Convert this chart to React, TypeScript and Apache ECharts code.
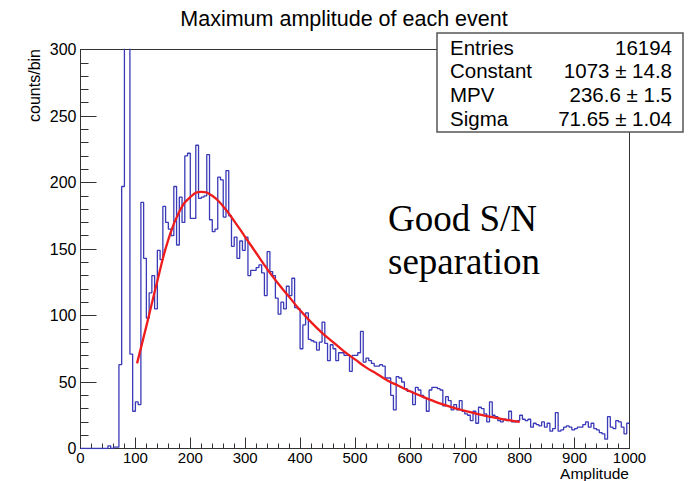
import React, { useEffect, useRef } from "react";
import * as echarts from "echarts";

// Histogram: 200 bins of width 5 from 0 to 1000 (counts per bin)
const BIN_WIDTH = 5;
const X_MIN = 0;
const X_MAX = 1000;
const Y_MAX = 300;
const histCounts = [
  0, 0, 0, 0, 0, 0, 0, 0, 0, 0,
  2, 0, 1, 1, 63, 197, 380, 350, 71, 28,
  35, 33, 185, 143, 98, 117, 130, 105, 149, 142,
  182, 170, 165, 160, 197, 153, 189, 170, 220, 222,
  173, 173, 228, 188, 189, 190, 221, 172, 163, 165,
  204, 202, 174, 209, 175, 152, 159, 143, 156, 149,
  159, 130, 134, 134, 136, 138, 132, 115, 148, 133,
  130, 113, 101, 110, 105, 122, 115, 128, 106, 105,
  75, 93, 102, 82, 81, 80, 74, 80, 95, 79,
  66, 78, 75, 66, 72, 72, 70, 70, 58, 70,
  70, 72, 88, 65, 68, 66, 64, 62, 62, 63,
  62, 53, 53, 40, 29, 54, 53, 50, 45, 43,
  43, 33, 46, 44, 40, 38, 28, 44, 46, 46,
  45, 44, 32, 39, 36, 29, 33, 29, 36, 28,
  26, 25, 21, 28, 19, 31, 30, 26, 20, 35,
  25, 24, 21, 20, 22, 21, 28, 20, 20, 21,
  25, 22, 21, 22, 16, 19, 18, 17, 20, 16,
  19, 13, 15, 27, 13, 14, 16, 17, 16, 14,
  15, 16, 16, 18, 20, 16, 19, 15, 14, 12,
  11, 7, 24, 16, 15, 21, 20, 16, 11, 19,
];

// Landau fit curve
const fitX = [103, 120, 140, 160, 180, 200, 220, 240, 260, 280, 300, 320, 340, 360, 380, 400, 420, 440, 460, 480, 500, 520, 540, 560, 580, 600, 620, 640, 660, 680, 700, 720, 740, 760, 780, 800];
const fitY = [64, 92, 126, 157, 178, 189, 193, 190, 182, 171, 159, 147, 135, 124, 114, 104, 95, 87, 80, 73, 67, 61, 56, 51, 47, 43, 39.5, 36.2, 33.2, 30.6, 28.3, 26.2, 24.4, 22.8, 21.3, 20];

const statsLabels = ["Entries", "Constant", "MPV", "Sigma"];
const statsValues = ["16194", "1073 \u00b1 14.8", "236.6 \u00b1 1.5", "71.65 \u00b1 1.04"];

const TITLE = "Maximum amplitude of each event";
const X_NAME = "Amplitude";
const Y_NAME = "counts/bin";
const NOTE_LINES = ["Good S/N", "separation"];

const SANS = '"Liberation Sans", Arial, sans-serif';
const SERIF = '"Liberation Serif", "Times New Roman", serif';
const AXIS_COLOR = "#333";

export default function App() {
  const ref = useRef<HTMLDivElement | null>(null);

  useEffect(() => {
    document.body.style.margin = "0";
    if (!ref.current) return;
    const chart = echarts.init(ref.current, undefined, { renderer: "svg" });

    const histData: number[][] = histCounts.map((c, i) => [X_MIN + i * BIN_WIDTH, c]);
    histData.push([X_MIN + histCounts.length * BIN_WIDTH, histCounts[histCounts.length - 1]]);
    const fitData = fitX.map((x, i) => [x, fitY[i]]);

    const statsGraphics: any[] = [
      {
        type: "rect",
        z: 100,
        shape: { x: 437, y: 33, width: 246, height: 99 },
        style: { fill: "#fff", stroke: "#555", lineWidth: 1.5 },
      },
    ];
    statsLabels.forEach((lab, i) => {
      const y = 47 + i * 23.8;
      statsGraphics.push({
        type: "text",
        z: 101,
        x: 450,
        y,
        style: { text: lab, font: `20.5px ${SANS}`, fill: "#000", align: "left", verticalAlign: "middle" },
      });
      statsGraphics.push({
        type: "text",
        z: 101,
        x: 672,
        y,
        style: { text: statsValues[i], font: `20.5px ${SANS}`, fill: "#000", align: "right", verticalAlign: "middle" },
      });
    });

    const option: any = {
      animation: false,
      backgroundColor: "#fff",
      grid: {
        left: 80.5,
        right: 58.5,
        top: 49.5,
        bottom: 32.5,
        show: true,
        borderColor: AXIS_COLOR,
        borderWidth: 1,
        backgroundColor: "transparent",
      },
      xAxis: {
        type: "value",
        min: X_MIN,
        max: X_MAX,
        interval: 100,
        axisLine: { show: true, onZero: false, lineStyle: { color: AXIS_COLOR, width: 1 } },
        axisTick: { show: true, inside: true, length: 11, lineStyle: { color: AXIS_COLOR } },
        minorTick: { show: true, splitNumber: 5, length: 5, lineStyle: { color: AXIS_COLOR } },
        splitLine: { show: false },
        axisLabel: {
          color: "#000",
          fontSize: 15,
          lineHeight: 14,
          fontFamily: SANS,
          margin: 2,
          formatter: (v: number) => String(v),
        },
      },
      yAxis: {
        type: "value",
        min: 0,
        max: Y_MAX,
        interval: 50,
        axisLine: { show: true, onZero: false, lineStyle: { color: AXIS_COLOR, width: 1 } },
        axisTick: { show: true, inside: true, length: 16, lineStyle: { color: AXIS_COLOR } },
        minorTick: { show: true, splitNumber: 5, length: 8, lineStyle: { color: AXIS_COLOR } },
        splitLine: { show: false },
        axisLabel: { color: "#000", fontSize: 16, fontFamily: SANS, margin: 4, formatter: (v: number) => String(v) },
      },
      series: [
        {
          type: "line",
          data: histData,
          step: "end",
          showSymbol: false,
          symbol: "none",
          clip: true,
          lineStyle: { color: "#3a3ab8", width: 1.3 },
          z: 2,
        },
        {
          type: "line",
          data: fitData,
          smooth: 0.5,
          showSymbol: false,
          symbol: "none",
          clip: true,
          lineStyle: { color: "#ee1c1c", width: 2.3 },
          z: 3,
        },
      ],
      graphic: [
        {
          type: "text",
          x: 344,
          y: 19,
          style: { text: TITLE, font: `21.5px ${SANS}`, fill: "#000", align: "center", verticalAlign: "middle" },
        },
        {
          type: "text",
          x: 34,
          y: 49,
          rotation: Math.PI / 2,
          style: { text: Y_NAME, font: `16px ${SANS}`, fill: "#000", align: "right", verticalAlign: "middle" },
        },
        {
          type: "text",
          x: 629,
          y: 473,
          style: {
            text: X_NAME,
            font: `15.5px ${SANS}`,
            lineHeight: 14,
            fill: "#000",
            align: "right",
            verticalAlign: "middle",
          },
        },
        {
          type: "text",
          x: 388,
          y: 218,
          style: { text: NOTE_LINES[0], font: `37px ${SERIF}`, fill: "#000", align: "left", verticalAlign: "middle" },
        },
        {
          type: "text",
          x: 388,
          y: 261,
          style: { text: NOTE_LINES[1], font: `37px ${SERIF}`, fill: "#000", align: "left", verticalAlign: "middle" },
        },
        ...statsGraphics,
      ],
    };

    chart.setOption(option);
    return () => {
      chart.dispose();
    };
  }, []);

  return <div ref={ref} style={{ width: 688, height: 481 }} />;
}
